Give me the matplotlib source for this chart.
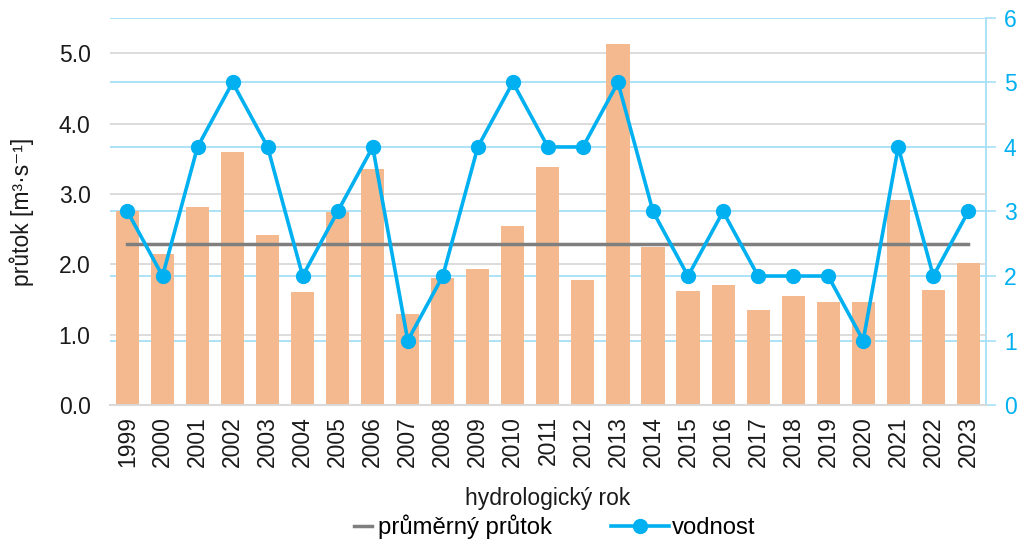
import matplotlib
matplotlib.use("Agg")
import matplotlib.pyplot as plt
import numpy as np

plt.rcParams["font.family"] = ["Liberation Sans", "DejaVu Sans"]

years = [str(y) for y in range(1999, 2024)]
prutok = [2.76, 2.14, 2.82, 3.60, 2.42, 1.60, 2.74, 3.35, 1.30, 1.81,
          1.94, 2.55, 3.38, 1.78, 5.13, 2.24, 1.62, 1.71, 1.35, 1.55,
          1.47, 1.47, 2.91, 1.64, 2.02]
vodnost = [3, 2, 4, 5, 4, 2, 3, 4, 1, 2, 4, 5, 4, 4, 5, 3, 2, 3, 2, 2, 2, 1, 4, 2, 3]
prumer = 2.29

BAR = "#F4B98E"
BLUE = "#00B0F0"
LBLUE = "#A6E1F7"
GRAY = "#7F7F7F"
GRID = "#D9D9D9"
INK = "#1A1A1A"

x = np.arange(len(years))

fig = plt.figure(figsize=(10.22, 5.43), dpi=100)
rect = [0.1076, 0.254, 0.857, 0.713]
ax2 = fig.add_axes(rect)           # right axis with blue grid, at the back
ax = fig.add_axes(rect, sharex=ax2)  # bars
ax3 = fig.add_axes(rect, sharex=ax2)  # vodnost line on top
for a in (ax, ax3):
    a.patch.set_visible(False)

# back axis: right scale 0..6
ax2.set_ylim(0, 6)
ax2.yaxis.tick_right()
ax2.set_yticks(range(0, 7))
ax2.tick_params(axis="y", colors=BLUE, labelsize=16.5, length=7, width=1.2, pad=6)
ax2.tick_params(axis="y", which="both", color=LBLUE)
ax2.grid(axis="y", color=LBLUE, lw=1.3)
ax2.tick_params(axis="x", bottom=False, labelbottom=False)
for s in ("left", "top", "bottom"):
    ax2.spines[s].set_visible(False)
ax2.spines["right"].set_color(LBLUE)
ax2.spines["right"].set_linewidth(1.3)

# bars + mean line
ax.bar(x, prutok, width=0.66, color=BAR, zorder=2)
ax.plot([x[0], x[-1]], [prumer, prumer], color=GRAY, lw=2.5, zorder=3,
        label="průměrný průtok")
ax.set_ylim(0, 5.5)
ax.set_yticks(np.arange(0, 5.01, 1.0))
ax.set_yticklabels([f"{v:.1f}" for v in np.arange(0, 5.01, 1.0)])
ax.grid(axis="y", color=GRID, lw=1.3, zorder=0)
ax.set_axisbelow(True)
ax.tick_params(axis="y", length=0, labelsize=16.5, colors=INK, pad=14)
ax.set_xlim(-0.5, len(years) - 0.5)
ax.set_xticks(x)
ax.set_xticklabels(years, rotation=90)
ax.tick_params(axis="x", length=0, labelsize=16.5, colors=INK, pad=8)
for s in ("left", "top", "right"):
    ax.spines[s].set_visible(False)
ax.spines["bottom"].set_color(GRID)
ax.spines["bottom"].set_linewidth(1.5)
ax.set_ylabel("průtok [m³·s⁻¹]", fontsize=16.5, color=INK, labelpad=18)
ax.set_xlabel("hydrologický rok", fontsize=16.5, color=INK, labelpad=14)

# vodnost
ax3.plot(x, vodnost, color=BLUE, lw=2.6, marker="o", ms=10, zorder=4,
         label="vodnost")
ax3.set_ylim(0, 6)
ax3.axis("off")

h1, l1 = ax.get_legend_handles_labels()
h3, l3 = ax3.get_legend_handles_labels()
fig.legend(h1, l1, loc="lower right", bbox_to_anchor=(0.561, -0.032),
           frameon=False, fontsize=17.2, handlelength=0.75, handletextpad=0.25)
fig.legend(h3, l3, loc="lower left", bbox_to_anchor=(0.577, -0.032),
           frameon=False, fontsize=17.2, handlelength=2.4, handletextpad=0.15)

fig.savefig("out.png", dpi=100, facecolor="white")
